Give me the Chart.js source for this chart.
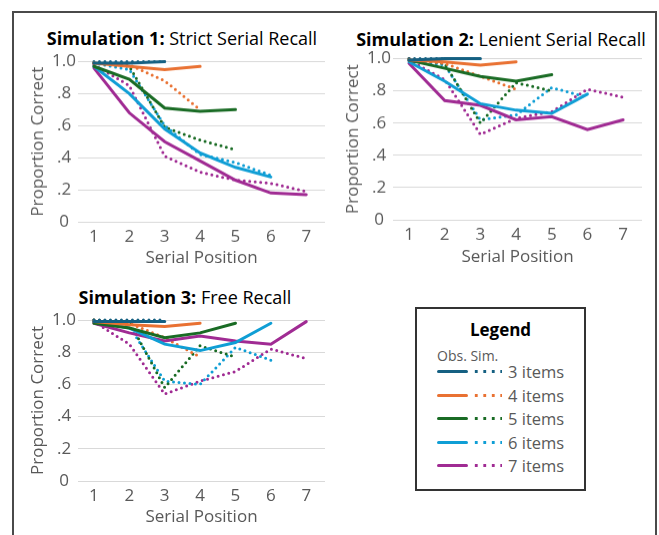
<!DOCTYPE html>
<html>
<head>
<meta charset="utf-8">
<script src="https://cdn.jsdelivr.net/npm/chart.js@4"></script>
<style>
  html, body { margin: 0; padding: 0; background: #fff; }
  body { width: 659px; height: 535px; position: relative; overflow: hidden;
         font-family: 'Open Sans', sans-serif; }
  .frame { position: absolute; left: 12px; top: 11px; width: 645px; height: 600px;
           border: 2px solid #4a4a4a; box-sizing: border-box; }
  canvas { position: absolute; }
  .ttl { position: absolute; transform: translate(-50%, -50%); white-space: nowrap;
         font-size: 18px; line-height: 1; color: #000; }
  .ttl b { font-weight: 700; }
  .legend { position: absolute; left: 415px; top: 307px; width: 171px; height: 184px;
            border: 2px solid #333; box-sizing: border-box; }
  .lg-title { position: absolute; left: 0; right: 0; top: 9px; text-align: center;
              font-weight: 700; font-size: 17px; color: #000; }
  .lg-head { position: absolute; left: 20px; top: 37px; font-size: 14px; color: #595959; }
  .lg-row { position: absolute; left: 20px; height: 20px; }
  .lg-solid { position: absolute; left: 0; top: 8px; width: 31px; height: 3px; border-radius: 2px; }
  .lg-dot { position: absolute; left: 35px; top: 7px; width: 30px; height: 5px; }
  .lg-txt { position: absolute; left: 71px; top: 0; font-size: 16.5px; line-height: 20px;
            color: #595959; white-space: nowrap; }
</style>
</head>
<body>
<div class="frame"></div>

<div class="ttl" style="left:182px; top:38px;"><b>Simulation 1:</b> Strict Serial Recall</div>
<div class="ttl" style="left:501px; top:39px;"><b>Simulation 2:</b> Lenient Serial Recall</div>
<div class="ttl" style="left:185px; top:297px;"><b>Simulation 3:</b> Free Recall</div>

<canvas id="sim1"></canvas>
<canvas id="sim2"></canvas>
<canvas id="sim3"></canvas>

<div class="legend" id="legend">
  <div class="lg-title">Legend</div>
  <div class="lg-head">Obs. Sim.</div>
</div>

<script>
// ── DATA ─────────────────────────────────────────────────────────────────────
const positions   = [1, 2, 3, 4, 5, 6, 7];
const yTicks      = [0, 0.2, 0.4, 0.6, 0.8, 1.0];
const yTickLabels = ['0', '.2', '.4', '.6', '.8', '1.0'];
const setSizes    = ['3 items', '4 items', '5 items', '6 items', '7 items'];
const colors      = ['#156082', '#e97132', '#196b24', '#0f9ed5', '#a02b93'];

// Simulation 1: strict serial recall (one row per list length 3..7)
const sim1Obs = [
  [0.99, 0.99, 1.00],
  [0.99, 0.97, 0.95, 0.97],
  [0.97, 0.89, 0.71, 0.69, 0.70],
  [0.97, 0.80, 0.58, 0.43, 0.34, 0.28],
  [0.96, 0.68, 0.50, 0.38, 0.26, 0.18, 0.17],
];
const sim1Sim = [
  [1.00, 1.00, 1.00],
  [0.99, 0.98, 0.88, 0.70],
  [0.99, 0.97, 0.59, 0.51, 0.45],
  [0.99, 0.95, 0.60, 0.42, 0.37, 0.29],
  [0.98, 0.85, 0.41, 0.31, 0.26, 0.24, 0.19],
];

// Simulation 2: lenient serial recall
const sim2Obs = [
  [0.99, 1.00, 1.00],
  [0.99, 0.98, 0.96, 0.98],
  [0.99, 0.94, 0.89, 0.86, 0.90],
  [0.98, 0.86, 0.72, 0.68, 0.66, 0.78],
  [0.97, 0.74, 0.71, 0.62, 0.64, 0.56, 0.62],
];
const sim2Sim = [
  [1.00, 1.00, 1.00],
  [1.00, 0.97, 0.89, 0.81],
  [1.00, 0.97, 0.60, 0.85, 0.80],
  [0.99, 0.96, 0.62, 0.65, 0.82, 0.76],
  [0.99, 0.87, 0.53, 0.63, 0.67, 0.81, 0.76],
];

// Simulation 3: free recall
const sim3Obs = [
  [0.99, 0.99, 0.99],
  [0.99, 0.97, 0.96, 0.98],
  [0.98, 0.95, 0.89, 0.92, 0.98],
  [0.99, 0.95, 0.85, 0.81, 0.86, 0.98],
  [0.98, 0.92, 0.87, 0.90, 0.87, 0.85, 0.99],
];
const sim3Sim = [
  [1.00, 1.00, 1.00],
  [1.00, 0.98, 0.89, 0.77],
  [1.00, 0.99, 0.58, 0.84, 0.77],
  [1.00, 0.96, 0.62, 0.60, 0.83, 0.75],
  [0.99, 0.85, 0.54, 0.62, 0.68, 0.82, 0.76],
];

// ── CHART SETUP ──────────────────────────────────────────────────────────────
Chart.defaults.font.family = "'Open Sans', sans-serif";
Chart.defaults.color = '#595959';

const DOT_DASH = [0, 5.5];

function buildDatasets(obs, sim) {
  const sets = [];
  obs.forEach((row, i) => {
    sets.push({
      label: 'Obs ' + setSizes[i],
      data: row.map((v, j) => ({ x: positions[j], y: v })),
      borderColor: colors[i],
      borderWidth: 3,
      borderCapStyle: 'round',
    });
  });
  sim.forEach((row, i) => {
    sets.push({
      label: 'Sim ' + setSizes[i],
      data: row.map((v, j) => ({ x: positions[j], y: v })),
      borderColor: colors[i],
      borderWidth: 3,
      borderDash: DOT_DASH,
      borderCapStyle: 'round',
    });
  });
  return sets;
}

// g: absolute page geometry for one panel
function makePanel(id, obs, sim, g) {
  const cv = document.getElementById(id);
  const height = g.areaBottom + 50 - g.top;
  cv.width = g.width;
  cv.height = height;
  cv.style.left = g.left + 'px';
  cv.style.top = g.top + 'px';
  cv.style.width = g.width + 'px';
  cv.style.height = height + 'px';

  const yWidth = g.areaLeft - g.left;

  new Chart(cv, {
    type: 'line',
    data: { datasets: buildDatasets(obs, sim) },
    options: {
      responsive: false,
      animation: false,
      devicePixelRatio: 1,
      clip: false,
      layout: {
        padding: { top: g.areaTop - g.top, right: g.left + g.width - g.areaRight, left: 0, bottom: 0 },
      },
      elements: { point: { radius: 0, hoverRadius: 0 }, line: { tension: 0 } },
      plugins: { legend: { display: false }, tooltip: { enabled: false } },
      scales: {
        x: {
          type: 'linear',
          min: g.xMin,
          max: 7.53,
          afterBuildTicks: s => { s.ticks = positions.map(v => ({ value: v })); },
          afterFit: s => { s.height = 50; },
          grid: { display: false, drawTicks: false, tickLength: 0 },
          border: { display: false },
          ticks: { font: { size: 17 }, padding: 5, maxRotation: 0, autoSkip: false,
                   callback: v => String(v) },
          title: { display: true, text: 'Serial Position', font: { size: 17 },
                   color: '#595959', padding: { top: 0, bottom: g.xTitlePad } },
        },
        y: {
          min: 0,
          max: 1,
          afterBuildTicks: s => { s.ticks = yTicks.map(v => ({ value: v })); },
          afterFit: s => { s.width = yWidth; },
          grid: { color: '#d9d9d9', lineWidth: 1, drawTicks: false, tickLength: 0 },
          border: { display: false },
          ticks: { font: { size: 17 }, padding: 2, crossAlign: 'center',
                   callback: (v, i) => yTickLabels[i] },
          title: { display: true, text: 'Proportion Correct', font: { size: 17 },
                   color: '#595959', padding: { top: g.yTitlePad, bottom: 0 } },
        },
      },
    },
  });
}

makePanel('sim1', sim1Obs, sim1Sim, {
  left: 20, top: 45, width: 310,
  areaLeft: 78, areaRight: 325, areaTop: 61.5, areaBottom: 221.5,
  xMin: 0.55, xTitlePad: 4, yTitlePad: 7.8,
});
makePanel('sim2', sim2Obs, sim2Sim, {
  left: 335, top: 45, width: 315,
  areaLeft: 393, areaRight: 642, areaTop: 58.5, areaBottom: 219.5,
  xMin: 0.55, xTitlePad: 2.5, yTitlePad: 8.1,
});
makePanel('sim3', sim3Obs, sim3Sim, {
  left: 20, top: 305, width: 310,
  areaLeft: 78, areaRight: 325, areaTop: 320, areaBottom: 481,
  xMin: 0.55, xTitlePad: 4, yTitlePad: 7.8,
});

// ── LEGEND ───────────────────────────────────────────────────────────────────
const legend = document.getElementById('legend');
setSizes.forEach((name, i) => {
  const row = document.createElement('div');
  row.className = 'lg-row';
  row.style.top = (53 + i * 23.5) + 'px';
  row.innerHTML =
    '<div class="lg-solid" style="background:' + colors[i] + '"></div>' +
    '<div class="lg-dot" style="background:radial-gradient(circle, ' + colors[i] +
      ' 1.4px, transparent 1.9px) 0 0 / 8.5px 5px repeat-x"></div>' +
    '<div class="lg-txt">' + name + '</div>';
  legend.appendChild(row);
});
</script>
</body>
</html>
